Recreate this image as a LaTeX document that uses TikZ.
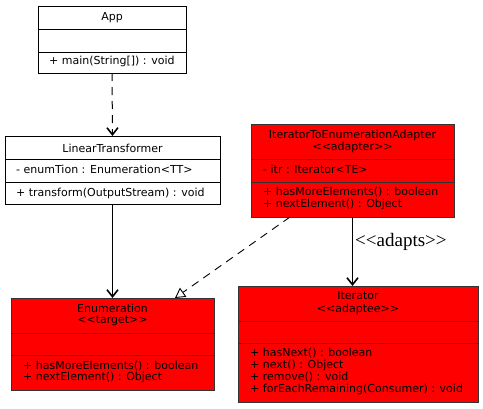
\documentclass[tikz,border=0pt]{standalone}
\usepackage{fontspec}
\setmainfont{DejaVu Sans}
\newfontfamily\labfont{Liberation Serif}
\usetikzlibrary{arrows.meta,calc}
\begin{document}
\begin{tikzpicture}[x=1pt,y=-1pt,
  classbox/.style={draw=black, line width=0.9pt, inner sep=0pt, outer sep=0pt, fill=white},
  redbox/.style={classbox, draw=black!80, fill=red},
  txt/.style={font=\fontsize{11}{12}\selectfont, inner sep=0pt, anchor=base west},
  ttl/.style={font=\fontsize{11}{12}\selectfont, inner sep=0pt, anchor=base},
  sep/.style={line width=0.9pt},
  dep/.style={line width=1pt, dash pattern=on 8pt off 6pt, -{Straight Barb[length=7pt,width=11pt,line width=1.6pt]}},
  assoc/.style={line width=1pt, -{Straight Barb[length=7pt,width=11pt,line width=1.6pt]}},
  real/.style={line width=0.9pt, dash pattern=on 8pt off 6pt, -{Triangle[open,fill=white,length=10pt,width=11pt]}}]
\useasboundingbox (0,0) rectangle (483,408);
\fill[white] (0,0) rectangle (483,408);

% App
\node[classbox, minimum width=148pt, minimum height=67pt] (app) at (112,39.5) {};
\draw[sep] (app.west |- 0,29) -- (app.east |- 0,29);
\draw[sep] (app.west |- 0,52) -- (app.east |- 0,52);
\node[ttl] (appt) at (112,20) {App};
\node[txt] (appm) at (49,64) {+ main(String[]) : void};

% LinearTransformer
\node[classbox, minimum width=215pt, minimum height=68pt] (lt) at (112.5,170) {};
\draw[sep] (lt.west |- 0,159) -- (lt.east |- 0,159);
\draw[sep] (lt.west |- 0,182) -- (lt.east |- 0,182);
\node[ttl] (ltt) at (112.5,152) {LinearTransformer};
\node[txt] (lta) at (16,173) {- enumTion : Enumeration<TT>};
\node[txt] (ltm) at (16,196) {+ transform(OutputStream) : void};

% Adapter
\node[redbox, minimum width=203pt, minimum height=93pt] (ad) at (352.5,170.5) {};
\draw[sep, draw=black!80] (ad.west |- 0,159) -- (ad.east |- 0,159);
\draw[sep, draw=black!80] (ad.west |- 0,182) -- (ad.east |- 0,182);
\node[ttl] (adt) at (352.5,138) {IteratorToEnumerationAdapter};
\node[ttl] (ads) at (352.5,150) {<{}<adapter>{}>};
\node[txt] (ada) at (263,173) {- itr : Iterator<TE>};
\node[txt] (adm1) at (263,195) {+ hasMoreElements() : boolean};
\node[txt] (adm2) at (263,207) {+ nextElement() : Object};

% Enumeration
\node[redbox, minimum width=203pt, minimum height=92pt] (en) at (112.5,344) {};
\draw[sep, draw=black!80] (en.west |- 0,333) -- (en.east |- 0,333);
\draw[sep, draw=black!80] (en.west |- 0,355) -- (en.east |- 0,355);
\node[ttl] (ent) at (112.5,312) {Enumeration};
\node[ttl] (ens) at (112.5,323.5) {<{}<target>{}>};
\node[txt] (enm1) at (23,369) {+ hasMoreElements() : boolean};
\node[txt] (enm2) at (23,380.5) {+ nextElement() : Object};

% Iterator
\node[redbox, minimum width=240pt, minimum height=116pt] (it) at (358,344) {};
\draw[sep, draw=black!80] (it.west |- 0,321) -- (it.east |- 0,321);
\draw[sep, draw=black!80] (it.west |- 0,343) -- (it.east |- 0,343);
\node[ttl] (itt) at (358,299) {Iterator};
\node[ttl] (its) at (358,312) {<{}<adaptee>{}>};
\node[txt] (itm1) at (250,356) {+ hasNext() : boolean};
\node[txt] (itm2) at (250,368) {+ next() : Object};
\node[txt] (itm3) at (250,380) {+ remove() : void};
\node[txt] (itm4) at (250,392) {+ forEachRemaining(Consumer) : void};

% connectors
\draw[dep] (app.south) -- (lt.north);
\draw[assoc] (lt.south) -- (en.north);
\coordinate (adp) at ($(ad.south west)+(101.5,0)$);
\draw[assoc] (adp) -- (adp |- it.north);
\node[font=\labfont\fontsize{19}{19}\selectfont, inner sep=0pt, anchor=base west] (adlab) at (355,246) {<{}<adapts>{}>};
\coordinate (rs) at ($(ad.south west)+(39,0)$);
\coordinate (re) at ($(en.north west)+(164,0)$);
\draw[real] (rs) -- (re);
\end{tikzpicture}
\end{document}
